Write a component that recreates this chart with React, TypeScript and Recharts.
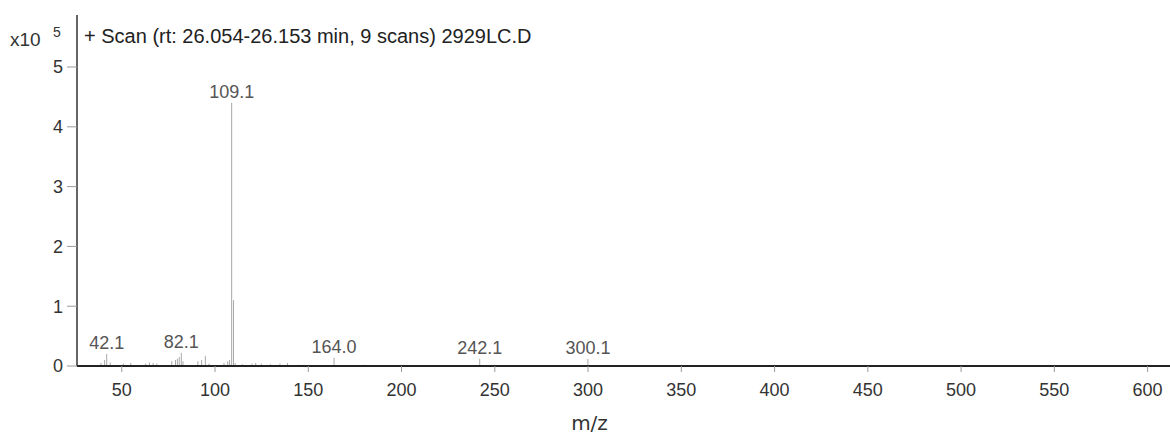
import { Bar, ComposedChart, Label, LabelList, XAxis, YAxis } from 'recharts';

// m/z of each stick in the spectrum
const mzValues = [
  39, 41, 42.1, 44, 51, 55, 63, 65, 67, 69, 77, 79, 80, 81, 82.1, 83, 91, 93, 95, 97,
  105, 107, 108, 109.1, 110.1, 111, 115, 120, 122, 125, 130, 135, 139, 145, 164.0, 180,
  242.1, 300.1,
];
// abundance, x10^5 counts
const abundance = [
  0.05, 0.1, 0.2, 0.06, 0.04, 0.05, 0.04, 0.06, 0.05, 0.04, 0.08, 0.1, 0.12, 0.15, 0.22, 0.08,
  0.08, 0.1, 0.17, 0.04, 0.05, 0.08, 0.1, 4.4, 1.1, 0.05, 0.03, 0.04, 0.05, 0.04, 0.03, 0.04,
  0.05, 0.02, 0.14, 0.02, 0.12, 0.12,
];
const labelledPeaks = [42.1, 82.1, 109.1, 164.0, 242.1, 300.1];
const xTicks = [50, 100, 150, 200, 250, 300, 350, 400, 450, 500, 550, 600];
const yTicks = [0, 1, 2, 3, 4, 5];

const data = mzValues.map((mz, i) => ({
  mz,
  abundance: abundance[i],
  label: labelledPeaks.includes(mz) ? mz.toFixed(1) : '',
}));

const Stick = (props: any) => {
  const { x, y, width, height } = props;
  if (height == null || height <= 0) return null;
  const cx = x + width / 2;
  return <line x1={cx} x2={cx} y1={y} y2={y + height} stroke="#a8a8a8" strokeWidth={1} />;
};

export default function App() {
  return (
    <div
      style={{
        position: 'absolute',
        left: 0,
        top: 0,
        width: 1170,
        height: 436,
        background: '#fff',
        fontFamily: '"Liberation Sans", Arial, sans-serif',
      }}
    >
      <div style={{ position: 'absolute', left: 10, top: 29, fontSize: 19, color: '#333' }}>x10</div>
      <div style={{ position: 'absolute', left: 53, top: 24, fontSize: 14, color: '#333' }}>5</div>
      <div style={{ position: 'absolute', left: 84, top: 25, fontSize: 20, color: '#222' }}>
        + Scan (rt: 26.054-26.153 min, 9 scans) 2929LC.D
      </div>
      <ComposedChart
        width={1170}
        height={436}
        data={data}
        margin={{ top: 15, right: 0, bottom: 0, left: 0 }}
      >
        <XAxis
          dataKey="mz"
          type="number"
          domain={[26, 612]}
          ticks={xTicks}
          allowDataOverflow
          height={70}
          axisLine={{ stroke: '#222', strokeWidth: 2 }}
          tickLine={{ stroke: '#999' }}
          tickSize={6}
          tickMargin={11}
          tick={{ fill: '#333', fontSize: 18 }}
        >
          <Label
            value="m/z"
            position="insideBottom"
            offset={6}
            dx={-34}
            fill="#333"
            fontSize={20}
            fontFamily='"DejaVu Sans", sans-serif'
          />
        </XAxis>
        <YAxis
          type="number"
          domain={[0, 5.87]}
          ticks={yTicks}
          allowDataOverflow
          width={77}
          axisLine={{ stroke: '#333', strokeWidth: 1.5 }}
          tickLine={{ stroke: '#999' }}
          tickSize={10}
          tickMargin={4}
          tick={{ fill: '#333', fontSize: 18 }}
        />
        <Bar dataKey="abundance" barSize={1} shape={<Stick />} isAnimationActive={false}>
          <LabelList dataKey="label" position="top" offset={5} fill="#555" fontSize={18} />
        </Bar>
      </ComposedChart>
    </div>
  );
}
